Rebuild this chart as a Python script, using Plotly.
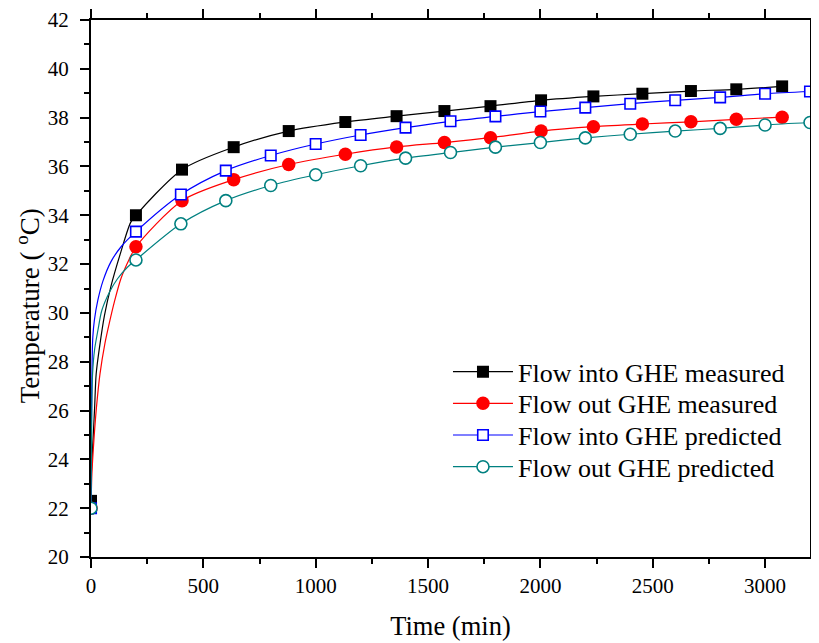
import plotly.graph_objects as go

# ---------------- data ----------------
# measured series (markers)
meas_t = [0, 200, 405, 635, 880, 1132, 1360, 1573, 1778, 2003, 2236, 2454, 2670, 2872, 3076]
into_meas = [22.3, 34.0, 35.87, 36.79, 37.45, 37.82, 38.06, 38.27, 38.47, 38.71, 38.87, 38.98, 39.09, 39.16, 39.28]
out_meas = [22.0, 32.71, 34.6, 35.46, 36.08, 36.5, 36.8, 36.98, 37.18, 37.45, 37.63, 37.74, 37.83, 37.93, 38.02]

# predicted series (markers)
pred_t = [0, 200, 400, 600, 800, 1000, 1200, 1400, 1600, 1800, 2000, 2200, 2400, 2600, 2800, 3000, 3200]
into_pred = [22.0, 33.33, 34.85, 35.83, 36.45, 36.92, 37.29, 37.59, 37.85, 38.05, 38.25, 38.41, 38.57, 38.71, 38.83, 38.98, 39.07]
out_pred = [22.0, 32.17, 33.65, 34.6, 35.22, 35.66, 36.03, 36.34, 36.57, 36.79, 36.98, 37.17, 37.32, 37.45, 37.56, 37.7, 37.8]

# extra line samples read in the steep start (0-200 min)
into_meas_early_t = [1.5, 9, 16, 23, 38, 60, 89, 133, 176]
into_meas_early_v = [23.4, 24.8, 26.1, 27.5, 28.6, 29.9, 31.1, 32.5, 33.7]
out_meas_early_t = [4, 13, 24, 40, 62, 82, 104, 133, 170]
out_meas_early_v = [23.4, 24.8, 26.1, 27.5, 28.75, 29.6, 30.45, 31.4, 32.2]
into_pred_early_t = [2, 5, 8, 15, 30, 53, 89, 133]
into_pred_early_v = [25.5, 28.0, 29.0, 29.7, 30.5, 31.3, 32.1, 32.7]
out_pred_early_t = [3, 7, 16, 31, 48, 82, 118, 162]
out_pred_early_v = [25.5, 27.5, 28.5, 29.3, 30.1, 30.85, 31.4, 31.87]

names = ["Flow into GHE measured", "Flow out GHE measured",
         "Flow into GHE predicted", "Flow out GHE predicted"]

FONT = "Times New Roman, Liberation Serif, serif"


def merge(t_main, v_main, t_early, v_early):
    pts = sorted(list(zip(t_main, v_main)) + list(zip(t_early, v_early)))
    return [p[0] for p in pts], [p[1] for p in pts]


series = [
    dict(name=names[0], t=meas_t, v=into_meas, et=into_meas_early_t, ev=into_meas_early_v,
         lc="#000000", marker=dict(symbol="square", size=12, color="#000000",
                                   line=dict(width=0))),
    dict(name=names[1], t=meas_t, v=out_meas, et=out_meas_early_t, ev=out_meas_early_v,
         lc="#FF0000", marker=dict(symbol="circle", size=13.5, color="#FF0000",
                                   line=dict(width=0))),
    dict(name=names[2], t=pred_t, v=into_pred, et=into_pred_early_t, ev=into_pred_early_v,
         lc="#0000FF", marker=dict(symbol="square", size=10.5, color="#FFFFFF",
                                   line=dict(width=1.6, color="#0000FF"))),
    dict(name=names[3], t=pred_t, v=out_pred, et=out_pred_early_t, ev=out_pred_early_v,
         lc="#008080", marker=dict(symbol="circle", size=12, color="#FFFFFF",
                                   line=dict(width=1.6, color="#008080"))),
]

legend_ids = ["legend", "legend2", "legend3", "legend4"]
legend_rows = [0.345, 0.286, 0.227, 0.168]

fig = go.Figure()
for s in series:
    lt, lv = merge(s["t"], s["v"], s["et"], s["ev"])
    fig.add_trace(go.Scatter(x=lt, y=lv, mode="lines",
                             line=dict(color=s["lc"], width=1.2, shape="spline", smoothing=0.8),
                             showlegend=False, hoverinfo="skip"))
    fig.add_trace(go.Scatter(x=s["t"], y=s["v"], mode="markers", marker=s["marker"],
                             showlegend=False))
for s, lid in zip(series, legend_ids):
    fig.add_trace(go.Scatter(x=[None], y=[None], mode="lines+markers", name=s["name"],
                             legend=lid,
                             line=dict(color=s["lc"], width=1.2), marker=s["marker"]))

legend_common = dict(xanchor="left", yanchor="middle", x=0.4965,
                     bgcolor="rgba(0,0,0,0)", borderwidth=0,
                     font=dict(family=FONT, size=26, color="black"),
                     itemwidth=60)
legends = {}
for lid, ry in zip(legend_ids, legend_rows):
    legends[lid] = dict(legend_common, y=ry)

fig.update_layout(
    width=813, height=640,
    margin=dict(l=83, r=0, t=8, b=91),
    paper_bgcolor="white", plot_bgcolor="white",
    font=dict(family=FONT, size=21, color="black"),
    showlegend=True,
    xaxis=dict(range=[0, 3200], tickmode="linear", tick0=0, dtick=500,
               showline=True, linewidth=2, linecolor="black", mirror="ticks",
               ticks="outside", ticklen=9, tickwidth=2, tickcolor="black",
               minor=dict(dtick=250, ticks="outside", ticklen=5, tickwidth=2, tickcolor="black"),
               showgrid=False, zeroline=False, ticklabeloverflow="allow",
               tickfont=dict(family=FONT, size=21, color="black"),
               title=dict(text="Time (min)", font=dict(family=FONT, size=26.5, color="black"),
                          standoff=19)),
    yaxis=dict(range=[20, 42], tickmode="linear", tick0=20, dtick=2,
               showline=True, linewidth=2, linecolor="black", mirror="ticks",
               ticks="outside", ticklen=9, tickwidth=2, tickcolor="black",
               minor=dict(dtick=1, ticks="outside", ticklen=5, tickwidth=2, tickcolor="black"),
               showgrid=False, zeroline=False, ticklabelstandoff=7, ticklabeloverflow="allow",
               tickfont=dict(family=FONT, size=21, color="black")),
    annotations=[dict(text="Temperature ( <sup>o</sup>C)", textangle=-90,
                      xref="paper", yref="paper", x=-0.0877, y=0.4686,
                      xanchor="center", yanchor="middle", showarrow=False,
                      font=dict(family=FONT, size=27, color="black"))],
    **legends,
)

fig.write_html("out.html")
